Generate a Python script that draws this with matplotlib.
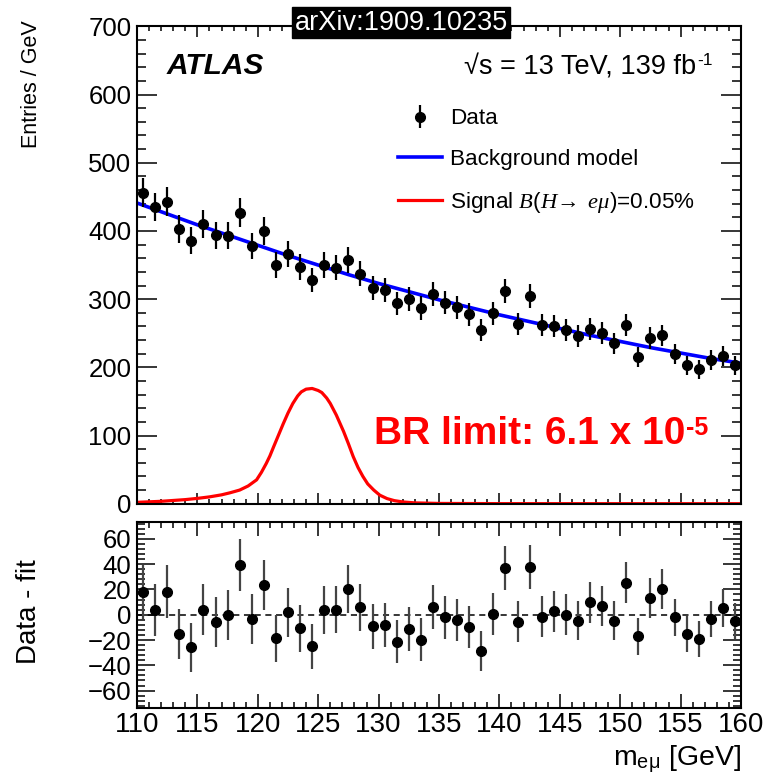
import numpy as np
import matplotlib
matplotlib.use("Agg")
import matplotlib.pyplot as plt
from matplotlib.ticker import MultipleLocator
from matplotlib.lines import Line2D

plt.rcParams['font.family'] = ['Liberation Sans', 'DejaVu Sans']
plt.rcParams['mathtext.fontset'] = 'custom'
plt.rcParams['mathtext.rm'] = 'Liberation Sans'
plt.rcParams['mathtext.it'] = 'Liberation Serif:italic'
plt.rcParams['mathtext.bf'] = 'Liberation Sans:bold'

# ---------------- data ----------------
bin_centers = np.arange(110.5, 160.0, 1.0)
data_counts = [456, 435, 443, 403, 386, 410, 394, 393, 427, 378,
               400, 350, 366, 347, 328, 350, 346, 357, 337, 316,
               313, 294, 300, 287, 307, 295, 288, 278, 255, 279,
               312, 264, 305, 262, 261, 255, 246, 256, 250, 235,
               262, 215, 243, 247, 220, 203, 197, 211, 217, 203]
residuals = [18.2, 3.7, 18.2, -15.3, -25.9, 4.0, -5.5, -0.3, 39.3, -3.4,
             23.5, -18.7, 1.8, -10.6, -25.1, 3.7, 4.0, 20.3, 5.8, -9.2,
             -8.2, -21.4, -11.3, -19.8, 6.3, -2.1, -4.2, -10.0, -28.5, 0.5,
             36.9, -5.5, 38.0, -1.6, 2.6, 0.0, -4.7, 9.8, 7.1, -4.7,
             25.1, -17.2, 13.2, 20.3, -2.1, -15.3, -19.3, -3.4, 5.3, -4.7]

bkg_mass = [110, 112.5, 115, 117.5, 120, 122.5, 125, 127.5, 130, 132.5, 135,
            137.5, 140, 142.5, 145, 147.5, 150, 152.5, 155, 157.5, 160]
bkg_vals = [441, 425, 409, 394, 379, 364, 350, 336, 323, 311, 299,
            288, 277, 267, 257, 247, 238, 229, 221, 213, 206]

sig_mass = [110, 112, 114, 115, 116, 117, 117.7, 118.5, 119.2, 119.9, 120.3,
            120.7, 121.0, 121.3, 121.7, 122.1, 122.5, 122.9, 123.3, 123.6, 124.0,
            124.5, 125.0, 125.3, 125.7, 126.0, 126.5, 127.1, 127.5, 127.9, 128.3,
            128.7, 129.1, 129.6, 130.1, 130.7, 131.3, 132.0, 133, 135, 140, 160]
sig_vals = [2, 3.5, 6, 7.8, 10, 13, 16, 20, 26, 35, 46,
            59, 70, 83, 100, 117, 133, 147, 158, 164, 168,
            169, 166, 163, 155, 147, 130, 106, 88, 69, 53,
            40, 29, 20, 12.5, 7.5, 4.5, 2.6, 1.2, 0.4, 0.1, 0]

x_ticks = [110, 115, 120, 125, 130, 135, 140, 145, 150, 155, 160]
upper_yticks = [0, 100, 200, 300, 400, 500, 600, 700]
lower_yticks = [-60, -40, -20, 0, 20, 40, 60]

data_err = np.sqrt(np.array(data_counts, dtype=float))

# ---------------- figure ----------------
W, H = 769, 775
fig = plt.figure(figsize=(W / 100, H / 100), dpi=100)

def frac(left, top, right, bottom):
    return [left / W, 1 - bottom / H, (right - left) / W, (bottom - top) / H]

ax1 = fig.add_axes(frac(137, 26.4, 741, 503.7))
ax2 = fig.add_axes(frac(137, 521.7, 741, 707.7))

for ax in (ax1, ax2):
    for s in ax.spines.values():
        s.set_linewidth(1.5)
    ax.set_xlim(110, 160)
    ax.set_xticks(x_ticks)
    ax.xaxis.set_minor_locator(MultipleLocator(1))
    ax.tick_params(which='both', direction='in', top=True, right=True, width=1.1)

# upper panel
ax1.plot(bkg_mass, bkg_vals, color='#0000ff', lw=2.6, zorder=2)
ax1.plot(sig_mass, sig_vals, color='#ff0000', lw=2.3, zorder=2)
ax1.errorbar(bin_centers, data_counts, yerr=data_err, fmt='o', color='black',
             ms=7, elinewidth=1.6, capsize=0, zorder=3)
ax1.set_ylim(0, 700)
ax1.set_yticks(upper_yticks)
ax1.yaxis.set_minor_locator(MultipleLocator(20))
ax1.tick_params(axis='y', which='major', length=14.5, labelsize=18.5, pad=4)
ax1.tick_params(axis='y', which='minor', length=6.5)
ax1.tick_params(axis='x', which='major', length=8, labelbottom=False)
ax1.tick_params(axis='x', which='minor', length=3.6)

# legend
h_data = ax1.errorbar([], [], yerr=[], fmt='o', color='black', ms=7, elinewidth=1.6)
h_bkg = Line2D([], [], color='#0000ff', lw=2.6)
h_sig = Line2D([], [], color='#ff0000', lw=2.3)
leg = ax1.legend([h_data, h_bkg, h_sig],
                 ['Data', 'Background model',
                  r'Signal $B(H\!\rightarrow\ e\mu)$=0.05%'],
                 loc='upper left', bbox_to_anchor=(0.432, 0.828),
                 frameon=False, fontsize=16.2, handlelength=1.95,
                 handletextpad=0.36, labelspacing=0.88, borderpad=0,
                 borderaxespad=0)

ax1.text(0.0497, 0.90, 'ATLAS', transform=ax1.transAxes, fontsize=21.5,
         fontweight='bold', fontstyle='italic', ha='left', va='baseline')
t_lumi = ax1.text(0.926, 0.90, '\u221as = 13 TeV, 139 fb',
                  transform=ax1.transAxes, fontsize=19.5, ha='right', va='baseline')
ax1.annotate('-1', xy=(1, 1), xycoords=t_lumi, xytext=(0.5, 1),
             textcoords='offset points', fontsize=12.5, ha='left', va='top')

t_br = ax1.text(0.392, 0.125, 'BR limit: 6.1 x 10',
                transform=ax1.transAxes, fontsize=28, fontweight='bold',
                color='#ff0000', ha='left', va='baseline')
ax1.annotate('-5', xy=(1, 1), xycoords=t_br, xytext=(0.5, 0),
             textcoords='offset points', fontsize=18, fontweight='bold',
             color='#ff0000', ha='left', va='top')

ax1.set_ylabel('Entries / GeV', fontsize=15.5)
ax1.yaxis.set_label_coords(-0.157, 0.88)

# lower panel
ax2.axhline(0, color='black', lw=1.1, ls=(0, (4, 3)), zorder=1)
ax2.errorbar(bin_centers, residuals, yerr=data_err, fmt='o', color='black',
             ecolor='#444444', ms=7, elinewidth=1.6, capsize=0, zorder=3)
ax2.set_ylim(-73.5, 73.5)
ax2.set_yticks(lower_yticks)
ax2.yaxis.set_minor_locator(MultipleLocator(4))
ax2.tick_params(axis='y', which='major', length=13, labelsize=18.5, pad=4)
ax2.tick_params(axis='y', which='minor', length=6)
ax2.tick_params(axis='x', which='major', length=10, labelsize=20, pad=3)
ax2.tick_params(axis='x', which='minor', length=4.5)
ax2.set_ylabel('Data - fit', fontsize=20)
ax2.yaxis.set_label_coords(-0.158, 0.514)
ax2.set_xlabel(r'm$_{\mathregular{e\mu}}$ [GeV]', fontsize=20.5, loc='right',
               labelpad=4)

fig.text(401 / W, 1 - 22.5 / H, 'arXiv:1909.10235', color='white',
         fontsize=19.5, ha='center', va='center',
         bbox=dict(boxstyle='square,pad=0.1', fc='black', ec='black'))

fig.savefig('out.png', dpi=100)
